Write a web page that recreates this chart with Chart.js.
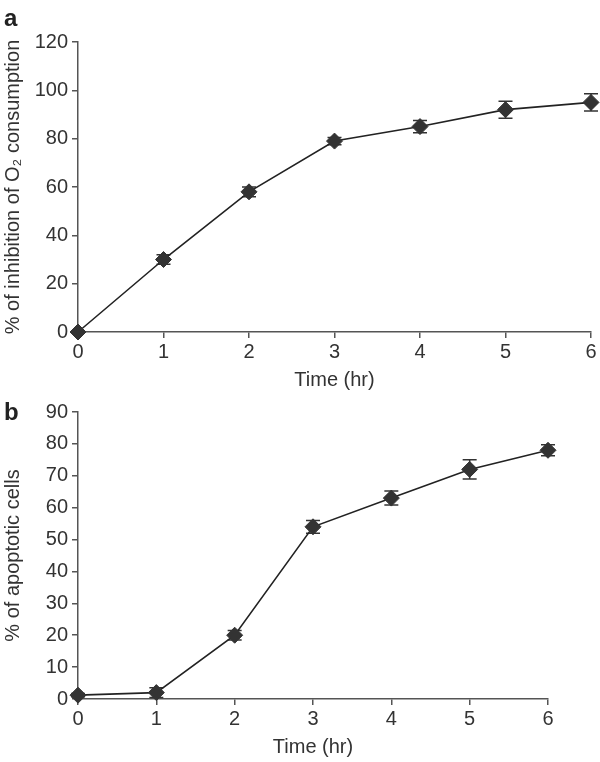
<!DOCTYPE html>
<html>
<head>
<meta charset="utf-8">
<script src="https://cdn.jsdelivr.net/npm/chart.js@4"></script>
<style>
  body { margin: 0; background: #fff; }
  #wrap { position: relative; width: 600px; height: 762px; }
  canvas { position: absolute; left: 0; }
  .tag { position: absolute; font: bold 24px "Liberation Sans", Arial, sans-serif; color: #222; }
</style>
</head>
<body>
<div id="wrap">
  <canvas id="chartA" width="600" height="396" style="top:0"></canvas>
  <canvas id="chartB" width="600" height="366" style="top:396px"></canvas>
  <div class="tag" style="left:4px;top:4px">a</div>
  <div class="tag" style="left:4px;top:398px">b</div>
</div>
<script>
// time points (hr)
const hours = [0, 1, 2, 3, 4, 5, 6];

// panel a: % inhibition of O2 consumption
const inhibition = [0, 30, 58, 79, 85, 92, 95];
const inhibitionErr = [0, 2, 2, 1.5, 2.5, 3.5, 3.6];

// panel b: % apoptotic cells
const apoptotic = [1.2, 2, 20, 54, 63, 72, 78];
const apoptoticErr = [0.5, 1.5, 1.5, 2, 2.2, 3, 1.7];

const FONT = "'Liberation Sans', Arial, sans-serif";
const INK = "#333";
const AXIS = "#555";

// draws the error bars behind the markers
const errorBars = {
  id: "errorBars",
  beforeDatasetsDraw(chart, args, opts) {
    const ctx = chart.ctx;
    const xs = chart.scales.x, ys = chart.scales.y;
    const vals = chart.data.datasets[0].data;
    ctx.save();
    ctx.strokeStyle = INK;
    ctx.lineWidth = 1.5;
    vals.forEach((p, i) => {
      const e = opts.errors[i];
      if (!e) return;
      const x = xs.getPixelForValue(p.x);
      const top = ys.getPixelForValue(p.y + e);
      const bot = ys.getPixelForValue(p.y - e);
      ctx.beginPath();
      ctx.moveTo(x, top); ctx.lineTo(x, bot);
      ctx.moveTo(x - 7, top); ctx.lineTo(x + 7, top);
      ctx.moveTo(x - 7, bot); ctx.lineTo(x + 7, bot);
      ctx.stroke();
    });
    ctx.restore();
  }
};

function TimeChart(canvasId, values, errors, yMax, yStep, yTitle, pad, xHeight, xTitlePad) {
  const points = hours.map((h, i) => ({ x: h, y: values[i] }));
  return new Chart(document.getElementById(canvasId).getContext("2d"), {
    type: "line",
    data: {
      datasets: [
        {
          data: points,
          borderColor: "#222",
          borderWidth: 1.6,
          pointStyle: "rectRot",
          pointRadius: 8,
          pointBackgroundColor: INK,
          pointBorderColor: INK,
          pointBorderWidth: 1,
          tension: 0,
          clip: false,
        },
      ],
    },
    options: {
      responsive: false,
      animation: false,
      devicePixelRatio: 1,
      layout: { padding: pad },
      plugins: {
        legend: { display: false },
        tooltip: { enabled: false },
        errorBars: { errors: errors },
      },
      scales: {
        x: {
          type: "linear",
          min: 0,
          max: 6,
          afterFit: (s) => { s.height = xHeight; },
          ticks: { stepSize: 1, color: INK, font: { family: FONT, size: 20 }, padding: 2 },
          grid: { drawOnChartArea: false, tickLength: 6, color: AXIS, lineWidth: 1.5 },
          border: { color: AXIS, width: 1.5 },
          title: {
            display: true,
            text: "Time (hr)",
            color: INK,
            font: { family: FONT, size: 20 },
            padding: { top: 0, bottom: xTitlePad },
          },
        },
        y: {
          min: 0,
          max: yMax,
          afterFit: (s) => { s.width = 78; },
          ticks: { stepSize: yStep, color: INK, font: { family: FONT, size: 20 }, padding: 4 },
          grid: { drawOnChartArea: false, tickLength: 6, color: AXIS, lineWidth: 1.5 },
          border: { color: AXIS, width: 1.5 },
          title: {
            display: true,
            text: yTitle,
            color: INK,
            font: { family: FONT, size: 20 },
            padding: { top: 1, bottom: 0 },
          },
        },
      },
    },
    plugins: [errorBars],
  });
}

TimeChart("chartA", inhibition, inhibitionErr, 120, 20,
  "% of inhibition of O\u2082 consumption",
  { left: 0, top: 42, right: 7, bottom: 0 }, 64, 4);

TimeChart("chartB", apoptotic, apoptoticErr, 90, 10,
  "% of apoptotic cells",
  { left: 0, top: 5, right: 52, bottom: 0 }, 63, 3);
</script>
</body>
</html>
